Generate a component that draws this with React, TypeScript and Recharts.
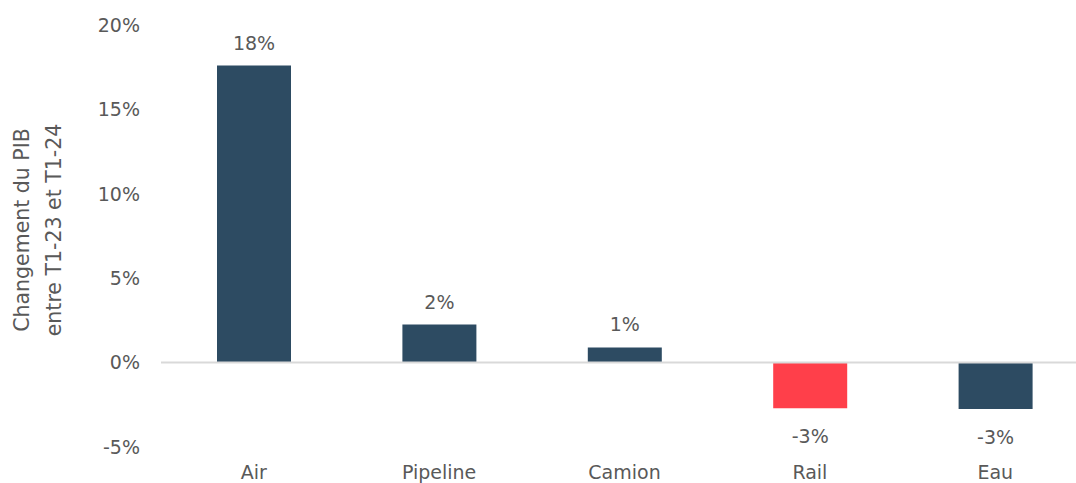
import { BarChart, Bar, XAxis, YAxis, Cell, LabelList, ReferenceLine } from "recharts";

// Changement du PIB par mode de transport, T1-23 vs T1-24 (%)
const modes = ["Air", "Pipeline", "Camion", "Rail", "Eau"];
const changes = [17.6, 2.25, 0.9, -2.7, -2.75];
const yTicks = [-5, 0, 5, 10, 15, 20];
const highlighted = "Rail";

const data = modes.map((mode, i) => ({ mode, change: changes[i] }));

const font = "'DejaVu Sans', sans-serif";
const textColor = "#595959";
const barColor = "#2D4B62";
const redColor = "#FF3F4A";

const BarValue = (props: any) => {
  const { x, y, width, height, value } = props;
  const neg = value < 0;
  // height is negative for bars below zero in some versions, so use the outer edge
  const top = Math.min(y, y + height);
  const bottom = Math.max(y, y + height);
  const ty = neg ? bottom + 28 : top - 23;
  return (
    <text
      x={x + width / 2}
      y={ty}
      textAnchor="middle"
      dominantBaseline="central"
      fill={textColor}
      fontSize={19}
      fontFamily={font}
    >
      {Math.round(value)}%
    </text>
  );
};

const AxisTitle = () => (
  <text
    transform="translate(22, 230) rotate(-90)"
    textAnchor="middle"
    fill={textColor}
    fontSize={20.5}
    fontFamily={font}
  >
    <tspan x={0} y={0} dominantBaseline="central">Changement du PIB</tspan>
    <tspan x={0} y={32} dominantBaseline="central">entre T1-23 et T1-24</tspan>
  </text>
);

export default function App() {
  return (
    <div style={{ position: "absolute", left: 0, top: 0, width: 1076, height: 483, overflow: "hidden", background: "#fff" }}>
      <BarChart
        width={1100}
        height={483}
        data={data}
        margin={{ top: 25, right: 12, bottom: 0, left: 0 }}
        barCategoryGap={0}
      >
        <XAxis
          dataKey="mode"
          axisLine={false}
          tickLine={false}
          height={36}
          tickMargin={13}
          interval={0}
          tick={{ fill: textColor, fontSize: 19, fontFamily: font }}
        />
        <YAxis
          width={161}
          domain={[-5, 20]}
          ticks={yTicks}
          interval={0}
          axisLine={false}
          tickLine={false}
          tickMargin={15}
          tickFormatter={(v: number) => `${v}%`}
          tick={{ fill: textColor, fontSize: 19, fontFamily: font }}
        />
        <ReferenceLine y={0} stroke="#D9D9D9" strokeWidth={2} />
        <Bar dataKey="change" barSize={74} isAnimationActive={false}>
          {data.map((d) => (
            <Cell key={d.mode} fill={d.mode === highlighted ? redColor : barColor} />
          ))}
          <LabelList dataKey="change" content={BarValue} />
        </Bar>
        <AxisTitle />
      </BarChart>
    </div>
  );
}
